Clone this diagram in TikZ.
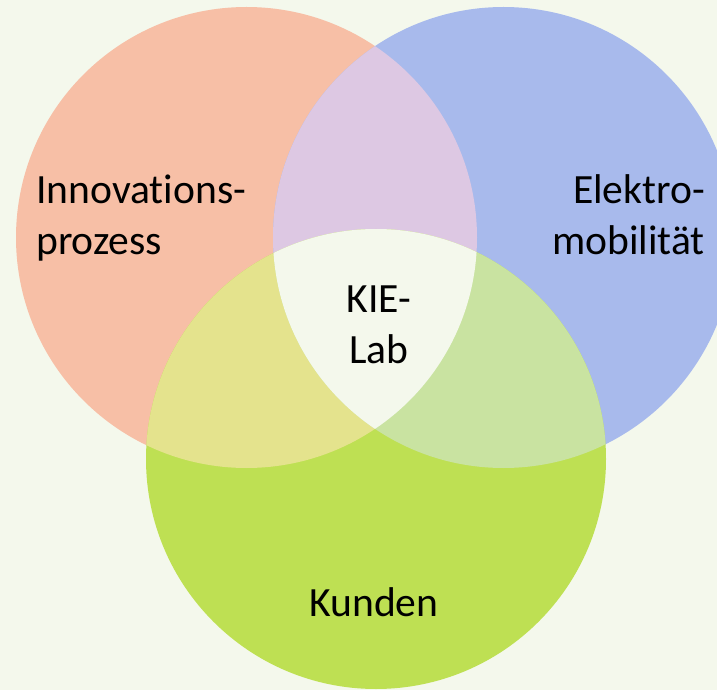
\documentclass[tikz,border=0pt]{standalone}
\usepackage{fontspec}
\setmainfont{Carlito}[Ligatures=CommonOff]
\definecolor{bgc}{HTML}{F4F8EC}
\definecolor{salmonc}{HTML}{F7BFA6}
\definecolor{bluec}{HTML}{A8BAEC}
\definecolor{greenc}{HTML}{BEE053}
\definecolor{lavc}{HTML}{DDC8E3}
\definecolor{yelc}{HTML}{E4E38D}
\definecolor{lgreenc}{HTML}{C9E3A1}
\definecolor{centc}{HTML}{F4F8EC}
\begin{document}
\begin{tikzpicture}[x=0.75pt,y=0.75pt,
  lbl/.style={inner sep=0pt,font=\fontsize{31.2pt}{38.25pt}\selectfont,text=black}]
\useasboundingbox (0,0) rectangle (717,690);
\clip (0,0) rectangle (717,690);
\fill[bgc] (0,0) rectangle (717,690);
\def\pathL{(246.5,452.5) circle[radius=230.5]}
\def\pathR{(503.5,452.5) circle[radius=230.5]}
\def\pathG{(376,231) circle[radius=230]}
\fill[salmonc] \pathL;
\fill[bluec] \pathR;
\fill[greenc] \pathG;
\begin{scope}
  \clip \pathL;
  \fill[lavc] \pathR;
  \fill[yelc] \pathG;
\end{scope}
\begin{scope}
  \clip \pathR;
  \fill[lgreenc] \pathG;
  \clip \pathL;
  \fill[centc] \pathG;
\end{scope}
\node[lbl,anchor=base west] (innov) at (36,486) {\begin{tabular}[t]{@{}l@{}}Innovations-\\prozess\end{tabular}};
\node[lbl,anchor=base east] (elektro) at (705,486) {\begin{tabular}[t]{@{}r@{}}Elektro-\\mobilität\end{tabular}};
\node[lbl,anchor=base] (kie) at (379,378) {\begin{tabular}[t]{@{}c@{}}KIE-\\Lab\end{tabular}};
\node[lbl,anchor=base] (kunden) at (374,73.5) {Kunden};
\end{tikzpicture}
\end{document}
